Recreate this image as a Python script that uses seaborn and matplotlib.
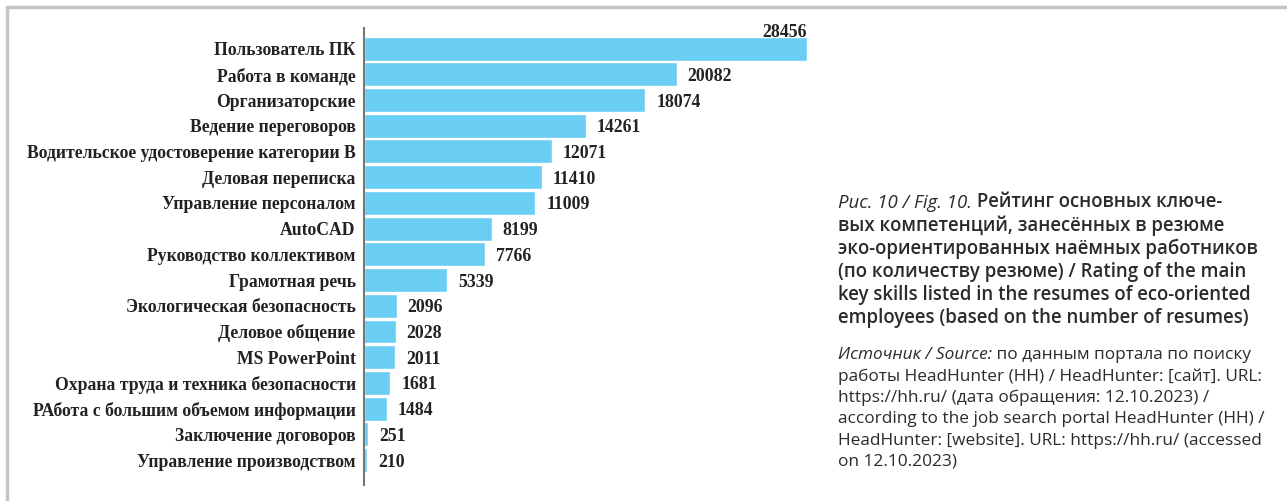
import matplotlib.pyplot as plt
import matplotlib.patches as mpatches
import pandas as pd
import seaborn as sns

skills = [
    'Пользователь ПК', 'Работа в команде', 'Организаторские', 'Ведение переговоров',
    'Водительское удостоверение категории B', 'Деловая переписка', 'Управление персоналом',
    'AutoCAD', 'Руководство коллективом', 'Грамотная речь', 'Экологическая безопасность',
    'Деловое общение', 'MS PowerPoint', 'Охрана труда и техника безопасности',
    'РАбота с большим объемом информации', 'Заключение договоров', 'Управление производством',
]
counts = [28456, 20082, 18074, 14261, 12071, 11410, 11009, 8199, 7766, 5339,
          2096, 2028, 2011, 1681, 1484, 251, 210]

caption_lead = 'Рис. 10 / Fig. 10.'
caption_lines = [
    ' Рейтинг основных ключе-',
    'вых компетенций, занесённых в резюме',
    'эко-ориентированных наёмных работников',
    '(по количеству резюме) / Rating of the main',
    'key skills listed in the resumes of eco-oriented',
    'employees (based on the number of resumes)',
]
source_lead = 'Источник / Source:'
source_lines = [
    ' по данным портала по поиску',
    'работы HeadHunter (HH) / HeadHunter: [сайт]. URL:',
    'https://hh.ru/ (дата обращения: 12.10.2023) /',
    'according to the job search portal HeadHunter (HH) /',
    'HeadHunter: [website]. URL: https://hh.ru/ (accessed',
    'on 12.10.2023)',
]

df = pd.DataFrame({'skill': skills, 'count': counts})

sns.set_style('white')
plt.rcParams['font.family'] = ['Liberation Serif', 'DejaVu Serif']

W, H = 1287, 501
fig = plt.figure(figsize=(W / 100, H / 100), dpi=100)
ax = fig.add_axes([364 / W, 1 - 485 / H, 467 / W, 457 / H])

sns.barplot(data=df, x='count', y='skill', color='#6acdf4', saturation=1,
            width=0.93, ax=ax)
ax.set_xlim(0, 30000)
ax.set_ylim(16.97, -0.8)
ax.set_xlabel('')
ax.set_ylabel('')
ax.set_xticks([])
for s in ['top', 'right', 'bottom']:
    ax.spines[s].set_visible(False)
ax.spines['left'].set_color('#777777')
ax.spines['left'].set_linewidth(1.5)
ax.tick_params(axis='y', length=0, pad=6)
for lab in ax.get_yticklabels():
    lab.set_fontweight('bold')
    lab.set_fontsize(12.7)
    lab.set_color('#222222')

for i, v in enumerate(counts):
    if i == 0:
        ax.text(v, i - 0.3, str(v), ha='right', va='bottom', fontsize=12.8,
                fontweight='bold', color='#222222')
    else:
        ax.annotate(str(v), (v, i), xytext=(11, -2), textcoords='offset pixels',
                    ha='left', va='center', fontsize=12.8, fontweight='bold',
                    color='#222222')

# frame around the figure
fig.patches.append(mpatches.Rectangle((7 / W, -0.1), 1.2, 1 - 7 / H + 0.1,
                                      transform=fig.transFigure, fill=False,
                                      edgecolor='#c4c4c4', linewidth=2.5))

sans = ['Open Sans', 'DejaVu Sans']
tc = '#2b2b2b'
x0 = 838 / W
cap_fs = 13.4
src_fs = 12.4

t = fig.text(x0, 1 - 203 / H, caption_lead, fontsize=cap_fs, style='italic',
             family=sans, color=tc, va='center')
fig.add_artist(plt.Annotation(caption_lines[0], xy=(1, 0), xycoords=t,
                              va='bottom', fontsize=cap_fs, fontweight='semibold',
                              family=sans, color=tc))
for k, line in enumerate(caption_lines[1:], start=1):
    fig.text(x0, 1 - (203 + 23 * k) / H, line, fontsize=cap_fs,
             fontweight='semibold', family=sans, color=tc, va='center')

s = fig.text(x0, 1 - 355 / H, source_lead, fontsize=src_fs, style='italic',
             family=sans, color=tc, va='center')
fig.add_artist(plt.Annotation(source_lines[0], xy=(1, 0), xycoords=s,
                              va='bottom', fontsize=src_fs, family=sans, color=tc))
for k, line in enumerate(source_lines[1:], start=1):
    fig.text(x0, 1 - (355 + 21.4 * k) / H, line, fontsize=src_fs,
             family=sans, color=tc, va='center')

fig.savefig('out.png', dpi=100)
